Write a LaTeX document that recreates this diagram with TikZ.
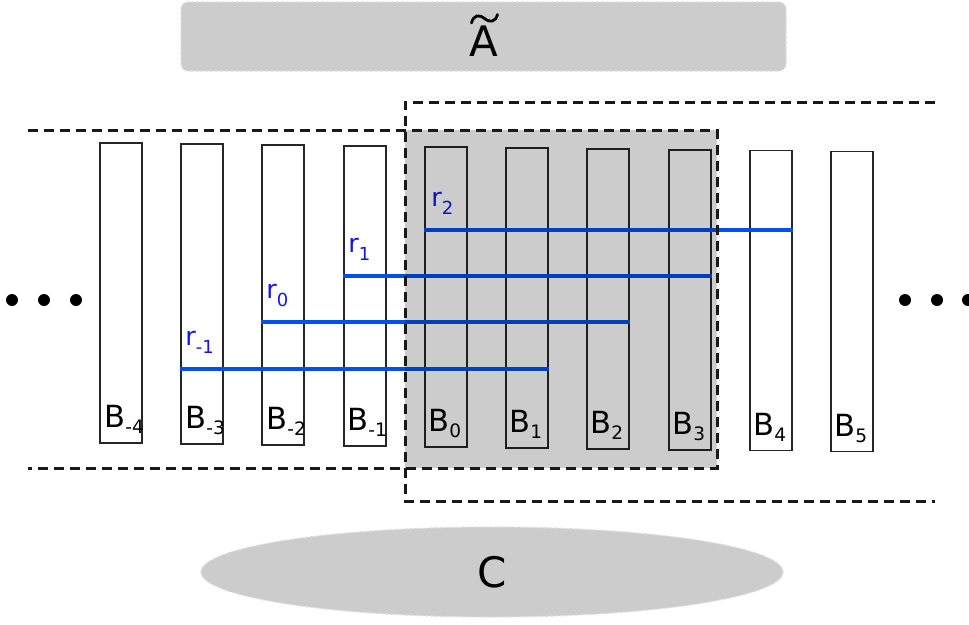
\documentclass[tikz,border=0pt]{standalone}
\usepackage{fontspec}
\setmainfont{DejaVu Sans}
\usetikzlibrary{shapes.geometric,calc}
\definecolor{rblue}{RGB}{0,80,240}
\definecolor{tblue}{RGB}{20,20,240}
\definecolor{lgray}{RGB}{204,204,204}
\definecolor{bgray}{RGB}{222,222,222}
\newcommand\mysub[3]{\raisebox{-#2}{\fontsize{#3}{#3}\selectfont #1}}
\tikzset{
  bbox/.style={draw=black!85, line width=1.6pt, minimum width=42pt, minimum height=300pt, inner sep=0pt},
  blab/.style={anchor=base west, inner sep=0pt, font=\fontsize{30.5}{30.5}\selectfont},
  rlab/.style={anchor=base west, inner sep=0pt, text=tblue, font=\fontsize{25.5}{25.5}\selectfont},
  rline/.style={draw=rblue, line width=4.8pt},
  dline/.style={draw=black!90, line width=3pt, dash pattern=on 10pt off 6pt},
  dotc/.style={fill=black},
  shaded/.style={fill=lgray, draw=bgray, line width=1.2pt, dash pattern=on 3pt off 2pt},
  big/.style={inner sep=0pt, font=\fontsize{42}{42}\selectfont},
  tildeline/.style={draw=black, line width=2.8pt, line cap=round}
}
\begin{document}
\begin{tikzpicture}[x=1pt,y=-1pt]
\useasboundingbox (0,0) rectangle (969,624);
% top box
\node[shaded, rounded corners=7pt, minimum width=605pt, minimum height=69pt, inner sep=0pt] (At) at (483.5,36.5) {};
\node[big, anchor=base] (Atl) at (483.5,56) {A};
\draw[tildeline] (471.5,23) .. controls (473.5,15) and (479,14) .. (484.5,18.5) .. controls (490,23) and (495.5,22) .. (497.5,14.5);
% bottom ellipse
\node[shaded, ellipse, minimum width=582pt, minimum height=90pt, inner sep=0pt] (C) at (492,572) {};
\node[big] (Cl) at (492,572) {C};
% boxes
\node[bbox] (bm4) at (121,293) {};
\node[bbox] (bm3) at (202,294) {};
\node[bbox] (bm2) at (283,295) {};
\node[bbox] (bm1) at (365,296) {};
\node[bbox] (b0) at (446,297) {};
\node[bbox] (b1) at (527,298) {};
\node[bbox] (b2) at (608,299) {};
\node[bbox] (b3) at (690,300) {};
\node[bbox] (b4) at (771,300.5) {};
\node[bbox] (b5) at (852,301.5) {};
% box labels
\node[blab] (lm4) at ($(bm4.south west)+(5,-16)$) {B\mysub{-4}{6pt}{18.5}};
\node[blab] (lm3) at ($(bm3.south west)+(5,-16)$) {B\mysub{-3}{6pt}{18.5}};
\node[blab] (lm2) at ($(bm2.south west)+(5,-16)$) {B\mysub{-2}{6pt}{18.5}};
\node[blab] (lm1) at ($(bm1.south west)+(4,-16)$) {B\mysub{-1}{6pt}{18.5}};
\node[blab] (l0) at ($(b0.south west)+(4,-16)$) {B\mysub{0}{6pt}{18.5}};
\node[blab] (l1) at ($(b1.south west)+(4,-16)$) {B\mysub{1}{6pt}{18.5}};
\node[blab] (l2) at ($(b2.south west)+(4,-16)$) {B\mysub{2}{6pt}{18.5}};
\node[blab] (l3) at ($(b3.south west)+(4,-16)$) {B\mysub{3}{6pt}{18.5}};
\node[blab] (l4) at ($(b4.south west)+(4,-16)$) {B\mysub{4}{6pt}{18.5}};
\node[blab] (l5) at ($(b5.south west)+(4,-16)$) {B\mysub{5}{6pt}{18.5}};
% blue lines
\draw[rline] (b0.west |- 0,230) -- (b4.east |- 0,230);
\draw[rline] (bm1.west |- 0,276) -- (b3.east |- 0,276);
\draw[rline] (bm2.west |- 0,322) -- (b2.east |- 0,322);
\draw[rline] (bm3.west |- 0,369) -- (b1.east |- 0,369);
\node[rlab] (r2) at ($(b0.west |- 0,230)+(7,-24)$) {r\mysub{2}{8pt}{18}};
\node[rlab] (r1) at ($(bm1.west |- 0,276)+(5,-24)$) {r\mysub{1}{8pt}{18}};
\node[rlab] (r0) at ($(bm2.west |- 0,322)+(5,-24)$) {r\mysub{0}{8pt}{18}};
\node[rlab] (rm1) at ($(bm3.west |- 0,369)+(5,-24)$) {r\mysub{-1}{8pt}{18}};
% gray overlay
\fill[black, fill opacity=0.2] (405,130) rectangle (717,468);
% dashed lines
\draw[dline] (28,130) -- (717,130) -- (717,468) -- (28,468);
\draw[dline] (935,102) -- (405,102) -- (405,501) -- (935,501);
% dots
\foreach \x in {12,44,76,905,937,968} \fill[dotc] (\x,300) circle (6pt);
\end{tikzpicture}
\end{document}
